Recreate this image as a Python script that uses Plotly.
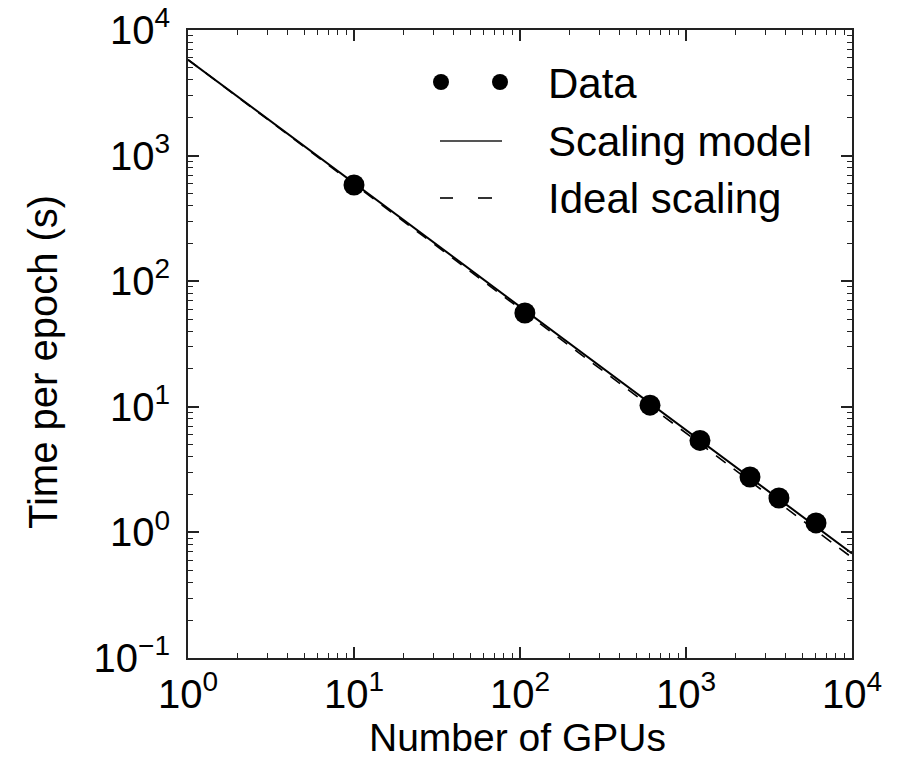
import plotly.graph_objects as go

# Data
gpus = [10, 107, 607, 1214, 2430, 3630, 6070]
time_per_epoch = [583, 55.8, 10.3, 5.4, 2.76, 1.88, 1.19]

model_x = [1, 10000]
model_y = [5800, 0.68]
ideal_x = [1, 10000]
ideal_y = [5800, 0.63]

legend_labels = ["Data", "Scaling model", "Ideal scaling"]
x_title = "Number of GPUs"
y_title = "Time per epoch (s)"

xt = [1, 10, 100, 1000, 10000]
xtt = ["10<sup>0</sup>", "10<sup>1</sup>", "10<sup>2</sup>", "10<sup>3</sup>", "10<sup>4</sup>"]
yt = [0.1, 1, 10, 100, 1000, 10000]
ytt = ["10<sup>\u22121</sup>", "10<sup>0</sup>", "10<sup>1</sup>", "10<sup>2</sup>",
       "10<sup>3</sup>", "10<sup>4</sup>"]

FONT = "Liberation Sans, Arial, Helvetica, sans-serif"

fig = go.Figure()
fig.add_trace(go.Scatter(x=model_x, y=model_y, mode="lines",
                         line=dict(color="black", width=2), name=legend_labels[1],
                         showlegend=False))
fig.add_trace(go.Scatter(x=ideal_x, y=ideal_y, mode="lines",
                         line=dict(color="black", width=1.6, dash="12px,10px"),
                         name=legend_labels[2], showlegend=False))
fig.add_trace(go.Scatter(x=gpus, y=time_per_epoch, mode="markers",
                         marker=dict(color="black", size=21, symbol="circle"),
                         name=legend_labels[0], showlegend=False))

L, R, T, B = 188, 852, 30, 658
W, H = 903, 759

def px(x):
    return (x - L) / (R - L)

def py(y):
    return (B - y) / (B - T)

# custom legend (paper coordinates)
shapes = []
for cx in (441, 500):
    r = 8
    shapes.append(dict(type="circle", xref="paper", yref="paper",
                       x0=px(cx - r), x1=px(cx + r), y0=py(82 + r), y1=py(82 - r),
                       fillcolor="black", line=dict(width=0)))
shapes.append(dict(type="line", xref="paper", yref="paper",
                   x0=px(440), x1=px(502), y0=py(141), y1=py(141),
                   line=dict(color="#555", width=2)))
for a, b in ((440, 453), (478, 492)):
    shapes.append(dict(type="line", xref="paper", yref="paper",
                       x0=px(a), x1=px(b), y0=py(198), y1=py(198),
                       line=dict(color="black", width=1.6)))

annotations = []
for lab, yy in zip(legend_labels, (84, 141, 198)):
    annotations.append(dict(text=lab, xref="paper", yref="paper", x=px(546), y=py(yy),
                            xanchor="left", yanchor="middle", showarrow=False,
                            font=dict(size=42, color="black", family=FONT)))

# axis titles
annotations.append(dict(text=x_title, xref="paper", yref="paper", x=px(517), y=py(737),
                        xanchor="center", yanchor="middle", showarrow=False,
                        font=dict(size=39, color="black", family=FONT)))
annotations.append(dict(text=y_title, xref="paper", yref="paper", x=px(43), y=py(362),
                        xanchor="center", yanchor="middle", showarrow=False, textangle=-90,
                        font=dict(size=40, color="black", family=FONT)))

def minor_vals(lo, hi):
    vals = []
    for e in range(lo, hi):
        for m in range(2, 10):
            vals.append(m * 10.0 ** e)
    return vals

axis_common = dict(type="log", showgrid=False, zeroline=False, showline=True,
                   linecolor="#222", linewidth=2, mirror="allticks", automargin=False,
                   ticks="inside", ticklen=11, tickwidth=1.5, tickcolor="#222",
                   tickfont=dict(size=40, color="black", family=FONT))

fig.update_layout(
    width=W, height=H,
    margin=dict(l=L, r=W - R, t=T, b=H - B),
    paper_bgcolor="white", plot_bgcolor="white",
    font=dict(family=FONT, color="black"),
    xaxis=dict(range=[0, 4], tickvals=xt, ticktext=xtt,
               minor=dict(tickvals=minor_vals(0, 4), ticks="inside", ticklen=5,
                          tickwidth=1, tickcolor="#222", showgrid=False),
               **axis_common),
    yaxis=dict(range=[-1, 4], tickvals=yt, ticktext=ytt, ticklabelstandoff=8,
               minor=dict(tickvals=minor_vals(-1, 4), ticks="inside", ticklen=5,
                          tickwidth=1, tickcolor="#222", showgrid=False),
               **axis_common),
    shapes=shapes, annotations=annotations, showlegend=False,
)

fig.write_html("out.html")
